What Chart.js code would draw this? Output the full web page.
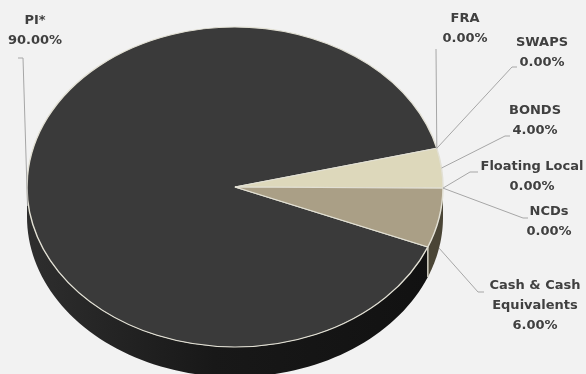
<!DOCTYPE html>
<html>
<head>
<meta charset="utf-8">
<script src="https://cdn.jsdelivr.net/npm/chart.js@4.4.1/dist/chart.umd.min.js"></script>
<style>
  html, body { margin: 0; padding: 0; background: #f2f2f2; }
  #wrap { width: 586px; height: 374px; overflow: hidden; }
</style>
</head>
<body>
<div id="wrap"><canvas id="myChart" width="586" height="374"></canvas></div>
<script>
const categories = ["PI*", "FRA", "SWAPS", "BONDS", "Floating Local", "NCDs", "Cash & Cash Equivalents"];
const shares = [90, 0, 0, 4, 0, 0, 6];
const labelLines = [["PI*"], ["FRA"], ["SWAPS"], ["BONDS"], ["Floating Local"], ["NCDs"], ["Cash & Cash", "Equivalents"]];
const topColors = ["#3a3a3a", "#3a3a3a", "#3a3a3a", "#ddd8bb", "#aa9f86", "#aa9f86", "#aa9f86"];
const sideColors = ["#1d1d1d", "#1d1d1d", "#1d1d1d", "#6f6b58", "#4a4536", "#4a4536", "#4a4536"];

// where the ellipse sits on the page and how thick it is
const CX = 235, CY = 187, RX = 208, RY = 160, DEPTH = 30;

// label box positions (text centre x, first line centre y), elbow and end of leader line
const labelLayout = [
  { x: 35, y: 21, elbow: [23, 58], end: [18, 58], drop: true },
  { x: 465, y: 19, elbow: null, end: [436, 49], drop: false },
  { x: 542, y: 43, elbow: [512, 67], end: [517, 67], drop: false },
  { x: 535, y: 111, elbow: [505, 136], end: [510, 136], drop: false },
  { x: 532, y: 167, elbow: [470, 172], end: [478, 172], drop: false },
  { x: 549, y: 212, elbow: [523, 218], end: [528, 218], drop: false },
  { x: 535, y: 286, elbow: [478, 292], end: [484, 292], drop: true },
];

const ctx = document.getElementById("myChart").getContext("2d");

function ellipsePoint(t, dy) {
  return [CX + RX * Math.cos(t), CY + RY * Math.sin(t) + (dy || 0)];
}

// parts of [s, e] that face the viewer (canvas angle 0..PI)
function frontParts(s, e) {
  const parts = [];
  for (let k = -1; k <= 2; k++) {
    const a = Math.max(s, 2 * Math.PI * k);
    const b = Math.min(e, 2 * Math.PI * k + Math.PI);
    if (b > a) parts.push([a, b]);
  }
  return parts;
}

const pie3d = {
  id: "pie3d",
  beforeDatasetsDraw(chart) {
    const c = chart.ctx;
    const meta = chart.getDatasetMeta(0);
    const first = meta.data[0];

    // side walls
    meta.data.forEach((arc, i) => {
      if (!shares[i]) return;
      frontParts(arc.startAngle, arc.endAngle).forEach(([a, b]) => {
        const steps = 80;
        c.beginPath();
        for (let n = 0; n <= steps; n++) {
          const p = ellipsePoint(a + (b - a) * n / steps, 0);
          n === 0 ? c.moveTo(p[0], p[1]) : c.lineTo(p[0], p[1]);
        }
        for (let n = steps; n >= 0; n--) {
          const p = ellipsePoint(a + (b - a) * n / steps, DEPTH);
          c.lineTo(p[0], p[1]);
        }
        c.closePath();
        const g = c.createLinearGradient(CX - RX, 0, CX + RX, 0);
        if (i === 0) {
          g.addColorStop(0, "#2e2e2e");
          g.addColorStop(0.45, "#181818");
          g.addColorStop(1, "#111111");
        } else {
          g.addColorStop(0, sideColors[i]);
          g.addColorStop(1, sideColors[i]);
        }
        c.fillStyle = g;
        c.fill();
      });
    });

    // light seams where slices meet on the wall
    c.strokeStyle = "#d9d6c8";
    c.lineWidth = 1;
    meta.data.forEach((arc, i) => {
      if (!shares[i]) return;
      [arc.startAngle, arc.endAngle].forEach((t) => {
        if (Math.sin(t) > 0.02) {
          const p = ellipsePoint(t, 0);
          c.beginPath();
          c.moveTo(p[0], p[1]);
          c.lineTo(p[0], p[1] + DEPTH);
          c.stroke();
        }
      });
    });

    // squash the round pie into the tilted ellipse
    c.save();
    c.translate(CX, CY);
    c.scale(RX / first.outerRadius, RY / first.outerRadius);
    c.translate(-first.x, -first.y);
  },
  afterDatasetsDraw(chart) {
    chart.ctx.restore();
  },
};

const pieLabels = {
  id: "pieLabels",
  afterDraw(chart) {
    const c = chart.ctx;
    const meta = chart.getDatasetMeta(0);
    c.save();
    c.strokeStyle = "#a6a6a6";
    c.lineWidth = 1;
    meta.data.forEach((arc, i) => {
      const lay = labelLayout[i];
      const mid = (arc.startAngle + arc.endAngle) / 2;
      const anchor = ellipsePoint(mid, lay.drop ? DEPTH : 0);
      c.beginPath();
      c.moveTo(anchor[0], anchor[1]);
      if (lay.elbow) c.lineTo(lay.elbow[0], lay.elbow[1]);
      c.lineTo(lay.end[0], lay.end[1]);
      c.stroke();
    });

    c.fillStyle = "#404040";
    c.font = "bold 13px 'DejaVu Sans'";
    c.textAlign = "center";
    c.textBaseline = "middle";
    labelLayout.forEach((lay, i) => {
      const lines = labelLines[i].concat([shares[i].toFixed(2) + "%"]);
      lines.forEach((t, n) => c.fillText(t, lay.x, lay.y + n * 20));
    });
    c.restore();
  },
};

new Chart(ctx, {
  type: "pie",
  data: {
    labels: categories,
    datasets: [
      {
        data: shares,
        backgroundColor: topColors,
        borderColor: "#e2e0d4",
        borderWidth: shares.map((v) => (v > 0 ? 1.3 : 0)),
        clip: false,
      },
    ],
  },
  options: {
    responsive: false,
    animation: false,
    rotation: 112,
    layout: { padding: 0 },
    plugins: {
      legend: { display: false },
      tooltip: { enabled: false },
    },
  },
  plugins: [pie3d, pieLabels],
});
</script>
</body>
</html>
